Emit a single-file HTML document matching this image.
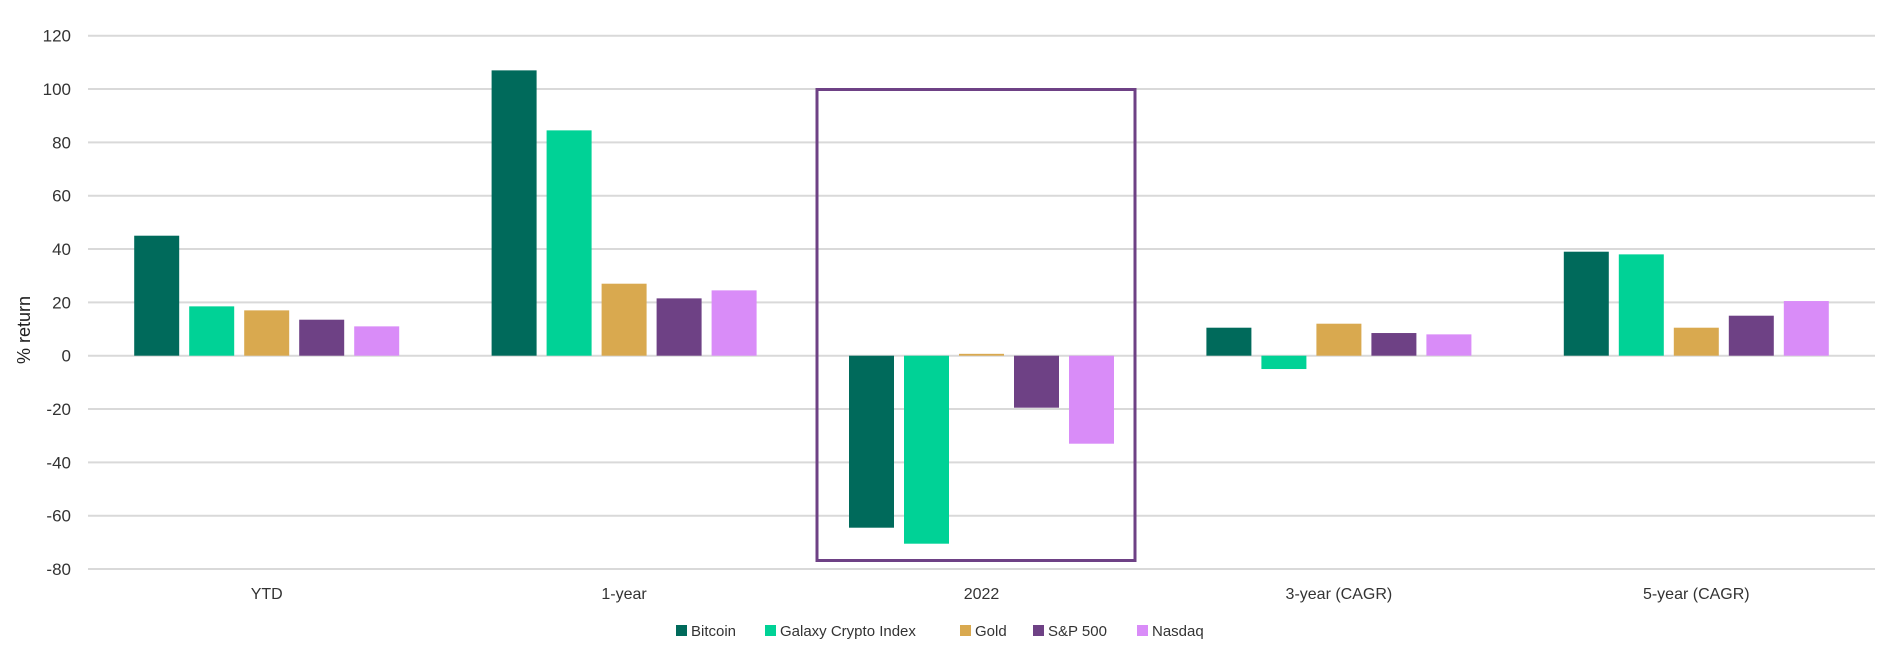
<!DOCTYPE html>
<html><head><meta charset="utf-8"><style>
body{margin:0;background:#fff;}
svg{display:block;font-family:"Liberation Sans",sans-serif;}
</style></head><body>
<svg id="chart" width="1899" height="668" viewBox="0 0 1899 668">
<rect width="1899" height="668" fill="#fff"/>
<g id="grid"></g>
<g id="yticks"></g>
<text transform="translate(30,330) rotate(-90)" text-anchor="middle" font-size="18" fill="#222">% return</text>
<g id="bars"></g>
<g id="xlabels"></g>
<rect x="817" y="89.5" width="318" height="471" fill="none" stroke="#6e4185" stroke-width="3"/>
<g id="legend"></g>
</svg>
<script>
const categories = ["YTD","1-year","2022","3-year (CAGR)","5-year (CAGR)"];
const seriesNames = ["Bitcoin","Galaxy Crypto Index","Gold","S&P 500","Nasdaq"];
const bitcoin = [45, 107, -64.5, 10.5, 39];
const galaxy = [18.5, 84.5, -70.5, -5, 38];
const gold = [17, 27, 0.7, 12, 10.5];
const sp500 = [13.5, 21.5, -19.5, 8.5, 15];
const nasdaq = [11, 24.5, -33, 8, 20.5];
const yTicks = [120,100,80,60,40,20,0,-20,-40,-60,-80];
const colors = ["#006a5b","#00d296","#d9a94f","#6e4185","#d98cf8"];
const series = [bitcoin, galaxy, gold, sp500, nasdaq];

const NS = "http://www.w3.org/2000/svg";
const plotL = 88, plotR = 1875;
const y = v => 355.7 - v * (320/120);
const bandW = (plotR - plotL) / categories.length;
const xc = i => plotL + bandW * (i + 0.5);
const barW = 45, step = 55;

function mk(tag, attrs, parent){const e=document.createElementNS(NS,tag);for(const k in attrs)e.setAttribute(k,attrs[k]);parent.appendChild(e);return e;}

const grid = document.getElementById('grid'), yt = document.getElementById('yticks');
yTicks.forEach(t=>{
  const l = mk('line',{x1:plotL,x2:plotR,y1:y(t),y2:y(t),stroke:'#d9d9d9','stroke-width':2},grid);
  
  
  const tx = mk('text',{x:71,y:y(t)+6,'text-anchor':'end','font-size':17,fill:'#333'},yt);
  tx.textContent = t;
  
  
});

const bars = document.getElementById('bars'), xl = document.getElementById('xlabels');
categories.forEach((c,i)=>{
  series.forEach((s,j)=>{
    const v = s[i];
    const x0 = xc(i) - (step*2 + barW/2) + j*step;
    const r = mk('rect',{x:x0,y:Math.min(y(v),y(0)),width:barW,height:Math.abs(y(v)-y(0)),fill:colors[j]},bars);
    
    
  });
  const t = mk('text',{x:xc(i),y:599,'text-anchor':'middle','font-size':16,fill:'#333'},xl);
  t.textContent = c;
  
  
});

const lg = document.getElementById('legend');
const lx = [676, 765, 960, 1033, 1137];
seriesNames.forEach((n,j)=>{
  const g = mk('g',{},lg);
  
  
  mk('rect',{x:lx[j],y:625,width:11,height:11,fill:colors[j]},g);
  const t = mk('text',{x:lx[j]+15,y:636,'font-size':15,fill:'#333'},g);
  t.textContent = n;
});
</script>
</body></html>
